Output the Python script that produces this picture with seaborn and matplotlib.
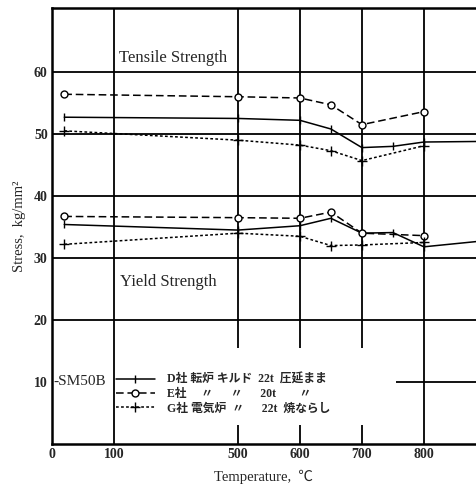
import numpy as np
import pandas as pd
import seaborn as sns
import matplotlib.pyplot as plt
import matplotlib.transforms as mtransforms

# --- data ---
temp_d = [20, 500, 600, 650, 700, 750, 800, 900]
tensile_d = [52.7, 52.5, 52.2, 50.8, 47.8, 48.0, 48.7, 48.8]
yield_d = [35.4, 34.5, 35.2, 36.4, 34.0, 34.1, 31.8, 32.8]

temp_e = [20, 500, 600, 650, 700, 800]
tensile_e = [56.4, 56.0, 55.8, 54.7, 51.5, 53.6]
yield_e = [36.7, 36.5, 36.4, 37.4, 34.0, 33.6]

temp_g = [20, 500, 600, 650, 700, 800]
tensile_g = [50.5, 49.0, 48.2, 47.3, 45.7, 48.1]
yield_g = [32.2, 34.0, 33.5, 32.0, 32.1, 32.5]

labels = ["D社 転炉 キルド  22t  圧延まま",
          "E社　 〃　  〃　  20t　　〃",
          "G社 電気炉  〃　  22t  焼ならし"]

xticks = [0, 100, 500, 600, 700, 800]
yticks = [10, 20, 30, 40, 50, 60]

# broken temperature axis: 0-100 same width as 100 steps above 500
scale_t = [0, 100, 500, 600, 700, 800, 900]
scale_p = [0, 1, 3, 4, 5, 6, 7]

rows = []
for lab, t, ts, ys in [(labels[0], temp_d, tensile_d, yield_d),
                       (labels[1], temp_e, tensile_e, yield_e),
                       (labels[2], temp_g, tensile_g, yield_g)]:
    for a, b in zip(t, ts):
        rows.append((lab, "tensile", a, b))
    for a, b in zip(t, ys):
        rows.append((lab, "yield", a, b))
df = pd.DataFrame(rows, columns=["series", "prop", "temp", "stress"])

sns.set_style("white")
plt.rcParams["font.family"] = ["Liberation Serif", "Noto Sans CJK JP"]

fig = plt.figure(figsize=(4.76, 4.86), dpi=100)
ax = fig.add_axes([0.109, 0.0864, 0.891, 0.897])
ax.set_xscale("function", functions=(lambda x: np.interp(x, scale_t, scale_p),
                                      lambda p: np.interp(p, scale_p, scale_t)))

styles = {
    labels[0]: dict(linestyle="-", marker="|", markersize=6),
    labels[1]: dict(linestyle=(0, (5, 2.5)), marker="o", markersize=5,
                    markerfacecolor="white"),
    labels[2]: dict(linestyle=(0, (1.8, 1.5)), marker="+", markersize=7),
}
for lab in labels:
    sns.lineplot(data=df[df["series"] == lab], x="temp", y="stress",
                 units="prop", estimator=None, sort=False, ax=ax,
                 color="black", markeredgecolor="black", markeredgewidth=1.0,
                 linewidth=1.1, label=lab, legend=False, **styles[lab])

ax.set_xlim(0, 884)
ax.set_ylim(0, 70.3)

# grid drawn by hand as in the scan
ax.hlines([20, 30, 40, 50, 60], 0, 884, color="black", lw=1.3, zorder=1)
ax.hlines(10, 755, 884, color="black", lw=1.3, zorder=1)
ax.vlines([100, 800], 0, 70.3, color="black", lw=1.3, zorder=1)
ax.vlines([500, 600, 700], 15.5, 70.3, color="black", lw=1.3, zorder=1)
ax.vlines([500, 600, 700], 0, 3.0, color="black", lw=1.3, zorder=1)

ax.set_xticks(xticks)
ax.set_xticklabels([str(v) for v in xticks], fontweight="bold", fontsize=10)
ax.set_yticks(yticks)
ax.set_yticklabels([str(v) for v in yticks], fontweight="bold", fontsize=10)
ax.tick_params(length=0, pad=3)

for s in ["left", "bottom", "top"]:
    ax.spines[s].set_linewidth(1.8)
    ax.spines[s].set_color("black")
ax.spines["right"].set_visible(False)

ax.set_xlabel("Temperature,  ℃", fontsize=10.5, labelpad=6)
ax.set_ylabel("Stress,  kg/mm²", fontsize=10.5, labelpad=6)

ax.text(118, 61.6, "Tensile Strength", fontsize=12)
ax.text(120, 25.5, "Yield Strength", fontsize=12)
trans = mtransforms.blended_transform_factory(ax.transAxes, ax.transData)
ax.text(0.004, 10, "-SM50B", fontsize=11, va="center", transform=trans)

handles, labs = ax.get_legend_handles_labels()
uniq = dict(zip(labs, handles))
ax.legend([uniq[l] for l in labels], labels, loc="upper left",
          bbox_to_anchor=(0.14, 0.172), frameon=False,
          prop={"size": 8.5, "weight": "bold"}, handlelength=3.3,
          labelspacing=0.2, handletextpad=1.0, borderaxespad=0)

fig.savefig("out.png", dpi=100)
